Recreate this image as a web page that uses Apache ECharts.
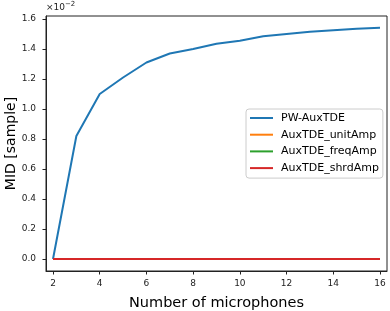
<!DOCTYPE html>
<html><head><meta charset="utf-8">
<script src="https://cdn.jsdelivr.net/npm/echarts@6/dist/echarts.min.js"></script>
<style>html,body{margin:0;padding:0;background:#fff}#c{width:390px;height:311px}</style>
</head><body><div id="c"></div>
<script>
const mics = [2,3,4,5,6,7,8,9,10,11,12,13,14,15,16];
const pwAuxTDE = [0,0.82,1.10,1.21,1.31,1.37,1.40,1.435,1.455,1.485,1.50,1.515,1.525,1.535,1.542];
const unitAmp = [0,0,0,0,0,0,0,0,0,0,0,0,0,0,0];
const freqAmp = [0,0,0,0,0,0,0,0,0,0,0,0,0,0,0];
const shrdAmp = [0,0,0,0,0,0,0,0,0,0,0,0,0,0,0];
const xTicks = [2,4,6,8,10,12,14,16];
const yTicks = [0,0.2,0.4,0.6,0.8,1.0,1.2,1.4,1.6];
const names = ['PW-AuxTDE','AuxTDE_unitAmp','AuxTDE_freqAmp','AuxTDE_shrdAmp'];
const colors = ['#1f77b4','#ff7f0e','#2ca02c','#d62728'];
const vals = [pwAuxTDE, unitAmp, freqAmp, shrdAmp];
const font = 'DejaVu Sans';
const chart = echarts.init(document.getElementById('c'));
chart.setOption({
  animation:false,
  grid:{left:46,right:3,top:16,bottom:40,outerBoundsMode:'none',containLabel:false,show:true,borderColor:'#222',borderWidth:1,backgroundColor:'transparent'},
  xAxis:{type:'value',min:1.7,max:16.3,
    name:'Number of microphones',nameLocation:'middle',nameGap:25,nameMoveOverlap:false,
    nameTextStyle:{fontFamily:font,fontSize:14.5,color:'#000'},
    axisLine:{show:true,onZero:false,lineStyle:{color:'#222',width:1}},
    axisTick:{show:true,length:3.5,customValues:xTicks,lineStyle:{color:'#222'}},
    axisLabel:{customValues:xTicks,fontFamily:font,fontSize:9,color:'#222',margin:8},
    splitLine:{show:false}},
  yAxis:{type:'value',min:-0.08,max:1.62,
    name:'MID [sample]',nameLocation:'middle',nameGap:28,nameRotate:90,nameMoveOverlap:false,
    nameTextStyle:{fontFamily:font,fontSize:14,color:'#000'},
    axisLine:{show:true,onZero:false,lineStyle:{color:'#222',width:1}},
    axisTick:{show:true,length:3.5,customValues:yTicks,lineStyle:{color:'#222'}},
    axisLabel:{customValues:yTicks,fontFamily:font,fontSize:9,color:'#222',margin:10,
      formatter:v=>v.toFixed(1)},
    splitLine:{show:false}},
  legend:{orient:'vertical',left:246,top:109,itemWidth:23,itemHeight:2,itemGap:4.7,
    icon:'rect',
    padding:[3,4,4,4],borderColor:'#ccc',borderWidth:1,borderRadius:3,backgroundColor:'rgba(255,255,255,0.8)',
    textStyle:{fontFamily:font,fontSize:11,lineHeight:12,color:'#000',padding:[0,0,0,3]},
    data:names.map((n,i)=>({name:n,itemStyle:{color:colors[i]}}))},
  graphic:[{type:'text',left:46,top:1,style:{text:'{a|×10}{b|−2}',rich:{a:{fontFamily:font,fontSize:9,fill:'#222'},b:{fontFamily:font,fontSize:7,fill:'#222',verticalAlign:'top',padding:[0,0,6,0]}}}}],
  series: names.map((n,i)=>({name:n,type:'line',symbol:'none',
    data: mics.map((m,j)=>[m,vals[i][j]]),
    lineStyle:{color:colors[i],width:2},itemStyle:{color:colors[i]},z:2+i}))
});
</script></body></html>
